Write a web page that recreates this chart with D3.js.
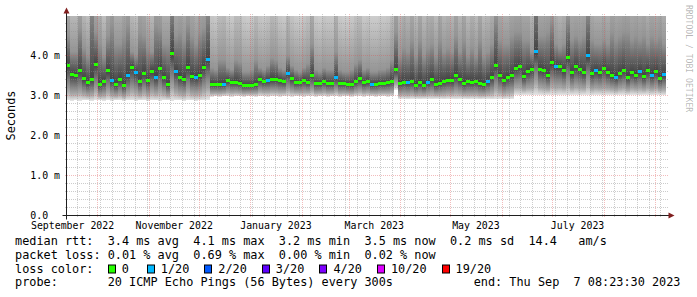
<!DOCTYPE html>
<html>
<head>
<meta charset="utf-8">
<script src="https://cdn.jsdelivr.net/npm/d3@7"></script>
<style>
body { margin: 0; background: #fff; }
svg { display: block; }
text { font-family: "DejaVu Sans Mono", monospace; white-space: pre; }
</style>
</head>
<body>
<svg id="chart" width="697" height="297"></svg>
<script>
// time span of the graph
const endTime = new Date(Date.UTC(2023, 8, 7, 8, 23, 30));
const spanDays = 360;

// median rtt per time bin (ms)
const rttMedian = [
  3.75,3.52,3.50,3.62,3.42,3.32,3.40,3.78,3.27,3.35,
  3.62,3.37,3.27,3.40,3.25,3.50,3.70,3.57,3.35,3.55,
  3.37,3.60,3.45,3.67,3.45,3.27,4.05,3.60,3.45,3.40,
  3.70,3.47,3.45,3.50,3.70,3.90,3.28,3.27,3.27,3.28,
  3.37,3.33,3.33,3.30,3.25,3.25,3.25,3.27,3.40,3.35,
  3.37,3.40,3.40,3.37,3.35,3.55,3.42,3.33,3.33,3.38,
  3.33,3.50,3.30,3.30,3.36,3.30,3.30,3.45,3.30,3.30,
  3.27,3.27,3.35,3.42,3.32,3.35,3.27,3.28,3.30,3.30,
  3.32,3.36,3.65,3.30,3.33,3.32,3.35,3.25,3.32,3.25,
  3.33,3.40,3.27,3.30,3.35,3.38,3.37,3.50,3.40,3.30,
  3.35,3.33,3.35,3.30,3.27,3.35,3.45,3.75,3.50,3.38,
  3.45,3.50,3.68,3.72,3.47,3.60,3.66,4.10,3.65,3.62,
  3.50,3.82,3.72,3.72,3.62,3.95,3.57,3.72,3.65,3.57,
  4.00,3.55,3.62,3.57,3.68,3.57,3.50,3.45,3.55,3.62,
  3.45,3.57,3.50,3.60,3.47,3.62,3.50,3.60,3.42,3.52
];

// lost pings out of 20 per bin
const lostPings = [
  0,0,0,0,0,0,0,0,0,0,
  0,1,0,0,0,1,0,1,0,0,
  0,0,1,0,0,0,0,1,0,0,
  0,0,1,0,0,1,0,0,0,1,
  0,0,0,0,0,0,0,0,0,0,
  1,0,0,0,0,1,0,0,0,0,
  0,0,0,0,0,0,0,1,0,0,
  0,0,0,0,0,0,1,0,0,0,
  0,0,0,0,0,1,0,0,0,0,
  1,0,0,0,0,0,0,0,0,0,
  0,0,0,0,0,1,0,0,0,0,
  0,0,0,0,0,0,0,1,0,0,
  0,0,1,0,0,0,0,0,0,0,
  1,0,1,0,0,0,0,1,0,0,
  0,0,0,1,0,0,1,0,0,1
];

// lowest ping per bin (ms)
const pingMin = [
  2.88,2.87,2.88,2.87,2.88,2.88,2.87,2.88,2.88,2.87,
  2.88,2.87,2.88,2.88,2.87,2.88,2.88,2.87,2.88,2.88,
  2.87,2.88,2.88,2.87,2.88,2.88,2.87,2.88,2.88,2.87,
  2.88,2.88,2.87,2.88,2.88,2.90,2.97,2.98,2.97,2.98,
  2.98,2.97,2.98,2.98,2.97,2.98,2.98,2.97,2.98,2.98,
  2.97,2.98,2.98,2.97,2.98,2.98,2.97,2.98,2.98,2.97,
  2.98,2.98,2.97,2.98,2.98,2.97,2.98,2.98,2.97,2.98,
  2.98,2.97,2.98,2.98,2.97,2.98,2.98,2.97,2.98,2.98,
  2.97,2.98,3.15,2.92,2.92,2.91,2.92,2.92,2.91,2.92,
  2.92,2.91,2.92,2.92,2.91,2.92,2.92,2.91,2.92,2.92,
  2.91,2.92,2.92,2.91,2.92,2.92,2.91,2.92,2.92,2.91,
  2.92,2.92,3.02,3.01,3.02,3.02,3.01,3.02,3.02,3.01,
  3.02,3.02,3.01,3.02,3.02,3.01,3.02,3.02,3.01,3.02,
  3.02,3.01,3.02,3.02,3.01,3.02,3.02,3.01,3.02,3.02,
  3.01,3.02,3.02,3.01,3.02,3.02,3.01,3.02,3.02,3.01
];

// upper quartile ping per bin (ms)
const pingHigh = [
  4.5,4.1,4.1,4.7,4.2,4.0,5.4,4.6,4.3,4.0,
  4.5,4.8,4.3,4.3,4.5,4.8,4.1,4.0,4.6,4.5,
  4.2,4.1,4.8,4.7,4.3,4.3,5.4,4.5,4.6,4.4,
  4.8,4.5,4.3,4.6,4.7,5.2,3.7,3.65,3.9,3.9,
  3.7,3.65,3.9,3.85,3.6,3.6,3.65,3.9,3.7,3.65,
  3.75,3.95,3.9,3.7,3.65,4.0,3.75,3.65,3.6,3.7,
  3.8,4.3,3.65,3.6,3.7,3.65,3.65,4.1,3.65,3.6,
  3.6,3.65,3.8,3.9,3.65,3.7,3.6,3.6,3.65,3.65,
  3.7,3.9,4.6,4.0,4.2,4.1,4.4,4.0,4.4,4.0,
  4.2,4.3,4.0,4.4,4.1,4.2,4.1,4.5,4.1,4.4,
  4.0,4.2,4.0,4.4,4.0,4.1,4.3,5.0,4.4,4.3,
  4.3,4.5,4.6,4.6,4.4,4.4,4.1,5.6,4.5,4.5,
  4.6,4.9,4.3,4.2,4.3,5.0,4.4,4.5,4.4,4.5,
  5.2,4.4,4.3,4.3,4.4,4.3,4.6,4.4,4.5,4.6,
  4.6,4.4,4.5,4.4,4.5,4.3,4.5,4.4,4.5,4.3
];

// highest ping per bin (ms)
const pingMax = [
  7.0,6.0,6.0,7.5,6.0,5.8,9.0,7.0,6.5,5.8,
  7.0,8.0,6.5,6.5,7.0,8.0,6.0,5.8,7.5,7.0,
  6.2,6.0,8.0,7.5,6.5,6.5,9.0,7.0,7.5,7.0,
  8.0,7.0,6.5,7.5,7.5,8.5,5.6,5.5,6.0,6.2,
  5.6,5.5,6.0,6.0,5.5,5.4,5.5,6.0,5.6,5.5,
  5.7,6.2,6.0,5.6,5.5,6.2,5.7,5.5,5.4,5.6,
  5.8,6.8,5.5,5.4,5.6,5.5,5.5,6.5,5.5,5.4,
  5.4,5.5,5.8,6.0,5.5,5.6,5.4,5.4,5.5,5.5,
  5.6,6.0,7.5,6.2,6.5,6.2,7.0,6.0,7.0,6.0,
  6.5,6.5,6.0,7.0,6.2,6.5,6.2,7.2,6.2,7.0,
  6.0,6.5,6.0,7.0,6.0,6.2,6.5,8.5,7.0,6.5,
  6.5,7.0,7.2,7.2,7.0,7.0,6.2,9.5,7.0,7.0,
  7.2,8.0,6.5,6.2,6.5,8.5,7.0,7.0,7.0,7.0,
  8.5,6.8,6.5,6.5,6.8,6.5,7.2,7.0,7.0,7.2,
  7.2,7.0,7.0,6.8,7.0,6.5,7.0,6.8,7.0,6.5
];

const yTicks = [0, 1, 2, 3, 4];
const yTickLabels = ["0.0", "1.0 m", "2.0 m", "3.0 m", "4.0 m"];

const lossSteps = [0, 1, 2, 3, 4, 10, 19];
const lossLabels = ["0", "1/20", "2/20", "3/20", "4/20", "10/20", "19/20"];
const lossColors = ["#26ff00", "#00b8ff", "#0059ff", "#5e00ff", "#7e00ff", "#dd00ff", "#ff0000"];

const rttStats = [["3.4", "avg"], ["4.1", "max"], ["3.2", "min"], ["3.5", "now"], ["0.2", "sd"]];
const rttAmS = "14.4";
const lossStats = [["0.01", "avg"], ["0.69", "max"], ["0.00", "min"], ["0.02", "now"]];
const probeText = "20 ICMP Echo Pings (56 Bytes) every 300s";
const endText = "end: Thu Sep  7 08:23:30 2023";

const svg = d3.select("#chart");
const X0 = 66.5, X1 = 666.5, Y0 = 215.5, Y1 = 15.5;
const startTime = new Date(endTime.getTime() - spanDays * 864e5);

const x = d3.scaleUtc().domain([startTime, endTime]).range([X0, X1]);
const y = d3.scaleLinear().domain([0, 5]).range([Y0, Y1]);

const n = rttMedian.length;
const binTime = i => new Date(startTime.getTime() + (endTime - startTime) * i / n);
const bins = d3.range(n).map(i => ({
  i, t0: binTime(i), t1: binTime(i + 1),
  med: rttMedian[i], lo: pingMin[i], hi: pingHigh[i], top: pingMax[i], loss: lostPings[i]
}));

const lossColor = l => lossColors[d3.bisectRight(lossSteps, l) - 1];

// smoke: one gradient per bin, shaded like smokeping's ping bands
const defs = svg.append("defs");
defs.append("clipPath").attr("id", "plot")
  .append("rect").attr("x", X0).attr("y", Y1).attr("width", X1 - X0).attr("height", Y0 - Y1);

const frac = (d, v) => (v - d.lo) / (d.top - d.lo);
defs.selectAll("linearGradient").data(bins).join("linearGradient")
  .attr("id", d => "smoke" + d.i)
  .attr("gradientUnits", "userSpaceOnUse")
  .attr("x1", 0).attr("x2", 0)
  .attr("y1", d => y(d.lo)).attr("y2", d => y(d.top))
  .selectAll("stop")
  .data(d => [
    [0, "#e4e4e4"],
    [frac(d, d.lo + 0.25 * (d.med - d.lo)), "#aaaaaa"],
    [frac(d, d.med), "#424242"],
    [frac(d, d.hi), "#959595"],
    [1, "#dedede"]
  ])
  .join("stop")
  .attr("offset", s => s[0])
  .attr("stop-color", s => s[1]);

svg.append("g").attr("clip-path", "url(#plot)")
  .selectAll("rect").data(bins).join("rect")
  .attr("x", d => x(d.t0) - 0.5)
  .attr("width", d => x(d.t1) - x(d.t0))
  .attr("y", d => y(Math.min(d.top, 5)))
  .attr("height", d => y(d.lo) - y(Math.min(d.top, 5)))
  .attr("fill", d => `url(#smoke${d.i})`)
  .attr("shape-rendering", "crispEdges");

// grid (drawn over the smoke, like rrdtool)
const grid = svg.append("g").attr("fill", "none").attr("shape-rendering", "crispEdges");
const minorY = d3.range(1, 25).map(k => k / 5).filter(v => Math.abs(v - Math.round(v)) > 1e-6);
const majorMonths = d3.utcMonth.range(d3.utcMonth.ceil(startTime), endTime);
const minorWeeks = d3.utcMonday.range(startTime, endTime)
  .filter(t => !majorMonths.some(m => Math.abs(x(m) - x(t)) < 1));
const snapX = t => Math.round(x(t) - 0.5) + 0.5;
const snapY = v => Math.round(y(v) - 0.5) + 0.5;

function hLines(vals, color) {
  grid.selectAll(null).data(vals).join("line")
    .attr("x1", X0 - 2).attr("x2", X1 + 2)
    .attr("y1", snapY).attr("y2", snapY)
    .attr("stroke", color).attr("stroke-dasharray", "1,1");
}
function vLines(times, color) {
  grid.selectAll(null).data(times).join("line")
    .attr("x1", snapX).attr("x2", snapX)
    .attr("y1", Y1 - 2).attr("y2", Y0 + 2)
    .attr("stroke", color).attr("stroke-dasharray", "1,1");
}
hLines(minorY, "rgba(143,143,143,0.45)");
vLines(minorWeeks, "rgba(143,143,143,0.45)");
hLines(yTicks.slice(1), "rgba(222,79,79,0.38)");
vLines(majorMonths, "rgba(222,79,79,0.38)");

// median, coloured by loss
svg.append("g").selectAll("rect").data(bins).join("rect")
  .attr("x", d => x(d.t0) - 0.5)
  .attr("width", d => x(d.t1) - x(d.t0))
  .attr("y", d => y(d.med) - 1.5)
  .attr("height", 3)
  .attr("fill", d => lossColor(d.loss))
  .attr("shape-rendering", "crispEdges");

// axes
const axis = svg.append("g");
axis.append("line").attr("x1", X0 - 4).attr("x2", X1 + 4).attr("y1", Y0).attr("y2", Y0)
  .attr("stroke", "#1f1f1f");
axis.append("line").attr("x1", X0).attr("x2", X0).attr("y1", Y0 + 4).attr("y2", Y1 - 4)
  .attr("stroke", "#1f1f1f");
axis.append("path")
  .attr("d", `M${X1 + 2},${Y0 - 3}L${X1 + 2},${Y0 + 3}L${X1 + 8},${Y0}Z`)
  .attr("fill", "#801f1f");
axis.append("path")
  .attr("d", `M${X0 - 3},${Y1 - 2}L${X0 + 3},${Y1 - 2}L${X0},${Y1 - 8}Z`)
  .attr("fill", "#801f1f");

// y labels
svg.append("g").selectAll("text").data(yTicks).join("text")
  .attr("x", 30.3)
  .attr("y", v => y(v) + 3)
  .attr("font-size", "9.9px")
  .text((v, i) => yTickLabels[i]);

// x labels: every second month, centred mid-month
const fmt = d3.utcFormat("%B %Y");
const labelMonths = d3.utcMonth.every(2).range(d3.utcMonth.floor(startTime), endTime)
  .map(t => ({t, mid: d3.utcDay.offset(t, 15)}))
  .filter(d => d.mid >= startTime && d.mid <= endTime);
svg.append("g").selectAll("text").data(labelMonths).join("text")
  .attr("x", d => x(d.mid))
  .attr("y", 228.5)
  .attr("text-anchor", "middle")
  .attr("font-size", "9.9px")
  .text(d => fmt(d.t));

// unit label
svg.append("text")
  .attr("transform", `translate(15.3,${(Y0 + Y1) / 2}) rotate(-90)`)
  .attr("text-anchor", "middle")
  .attr("font-size", "11.85px")
  .text("Seconds");

// watermark
svg.append("text")
  .attr("transform", "translate(686,5) rotate(90)")
  .attr("font-size", "8.1px")
  .attr("fill", "#000").attr("fill-opacity", 0.3)
  .text("RRDTOOL / TOBI OETIKER");

// legend
const legFont = "11.85px";
const charW = 7.13;
const legX = 15;
const rowY = [245.3, 259, 272.7, 286.4];
const leg = svg.append("g").attr("font-size", legFont);

leg.append("text").attr("x", legX).attr("y", rowY[0])
  .text("median rtt:  " + rttStats.map(s => `${s[0]} ms ${s[1]}`).join("  ") + `  ${rttAmS}   am/s`);
leg.append("text").attr("x", legX).attr("y", rowY[1])
  .text("packet loss: " + lossStats.map(s => `${s[0]} % ${s[1]}`).join("  "));
leg.append("text").attr("x", legX).attr("y", rowY[2]).text("loss color:");

let bx = legX + 13 * charW;
lossLabels.forEach((lab, i) => {
  leg.append("rect")
    .attr("x", Math.round(bx) + 0.5).attr("y", rowY[2] - 7.7)
    .attr("width", 7).attr("height", 8)
    .attr("fill", lossColors[i]).attr("stroke", "#000");
  leg.append("text").attr("x", bx + 14).attr("y", rowY[2]).text(lab);
  bx += 14 + lab.length * charW + (i === 0 ? 18 : 15);
});

leg.append("text").attr("x", legX).attr("y", rowY[3]).text("probe:       " + probeText);
leg.append("text").attr("x", 680.5).attr("y", rowY[3]).attr("text-anchor", "end").text(endText);
</script>
</body>
</html>
